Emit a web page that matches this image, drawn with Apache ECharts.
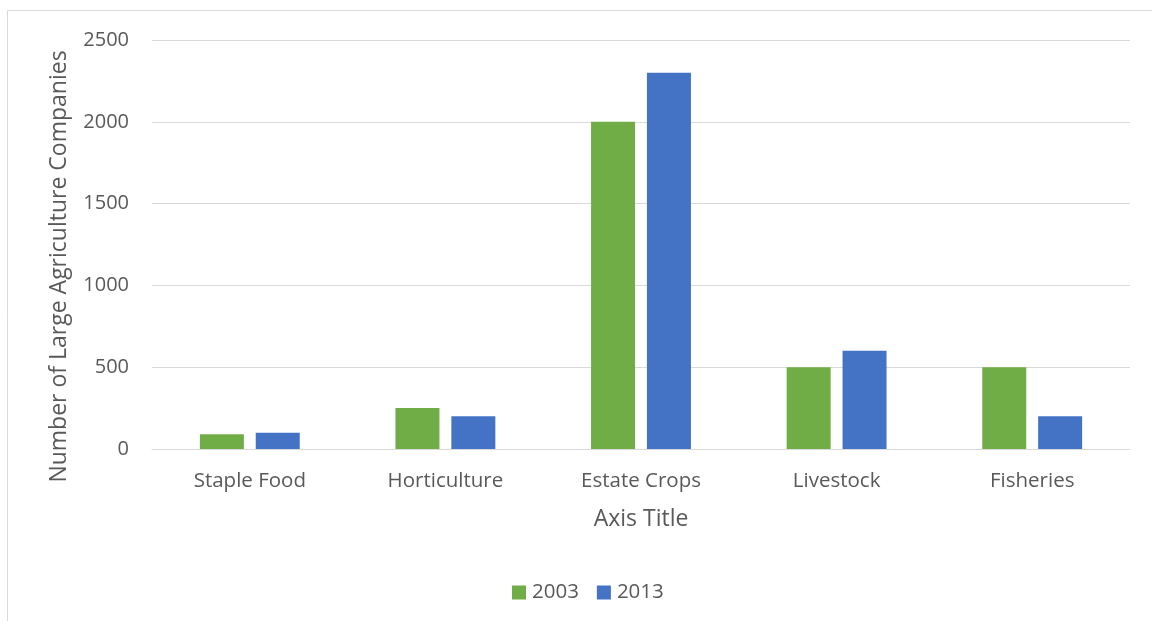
<!DOCTYPE html>
<html><head><meta charset="utf-8">
<script src="https://cdn.jsdelivr.net/npm/echarts@6/dist/echarts.min.js"></script>
<style>html,body{margin:0;padding:0;background:#fff}#c{width:1152px;height:621px}</style>
</head><body><div id="c"></div>
<script>
const categories = ['Staple Food', 'Horticulture', 'Estate Crops', 'Livestock', 'Fisheries'];
const values2003 = [90, 250, 2000, 500, 500];
const values2013 = [100, 200, 2300, 600, 200];
const seriesNames = ['2003', '2013'];
const yTicks = { min: 0, max: 2500, interval: 500 };

const font = '"Open Sans", "Noto Sans", sans-serif';
const chart = echarts.init(document.getElementById('c'));
chart.setOption({
  animation: false,
  backgroundColor: '#fff',
  graphic: [{
    type: 'rect', shape: { x: 7.5, y: 10.5, width: 1200, height: 700 },
    style: { fill: 'none', stroke: '#d9d9d9', lineWidth: 1 }, silent: true, z: -1
  }],
  grid: { left: 152, right: 22, top: 40, bottom: 172 },
  legend: {
    data: seriesNames, bottom: 13, left: 507,
    itemWidth: 14, itemHeight: 14, itemGap: 18, icon: 'rect',
    textStyle: { color: '#595959', fontSize: 20.5, fontFamily: font, padding: [0, 0, 0, 1] }
  },
  xAxis: {
    type: 'category', data: categories,
    name: 'Axis Title', nameLocation: 'middle', nameGap: 59,
    nameTextStyle: { color: '#595959', fontSize: 23, fontFamily: font },
    axisLine: { lineStyle: { color: '#d9d9d9', width: 1 } },
    axisTick: { show: false },
    axisLabel: { color: '#595959', fontSize: 20.5, fontFamily: font, margin: 22 }
  },
  yAxis: {
    type: 'value', min: yTicks.min, max: yTicks.max, interval: yTicks.interval,
    name: 'Number of Large Agriculture Companies', nameLocation: 'middle', nameGap: 81,
    nameTextStyle: { color: '#595959', fontSize: 23, fontFamily: font, padding: [0, 44, 0, 0] },
    axisLine: { show: false }, axisTick: { show: false },
    splitLine: { lineStyle: { color: '#d9d9d9', width: 1 } },
    axisLabel: { color: '#595959', fontSize: 20, fontFamily: font, margin: 23,
      formatter: function (v) { return String(v); } }
  },
  series: [
    { name: seriesNames[0], type: 'bar', data: values2003, barWidth: 44, barGap: '27%',
      itemStyle: { color: '#70ad47' } },
    { name: seriesNames[1], type: 'bar', data: values2013, barWidth: 44, barGap: '27%',
      itemStyle: { color: '#4472c4' } }
  ]
});
</script></body></html>
